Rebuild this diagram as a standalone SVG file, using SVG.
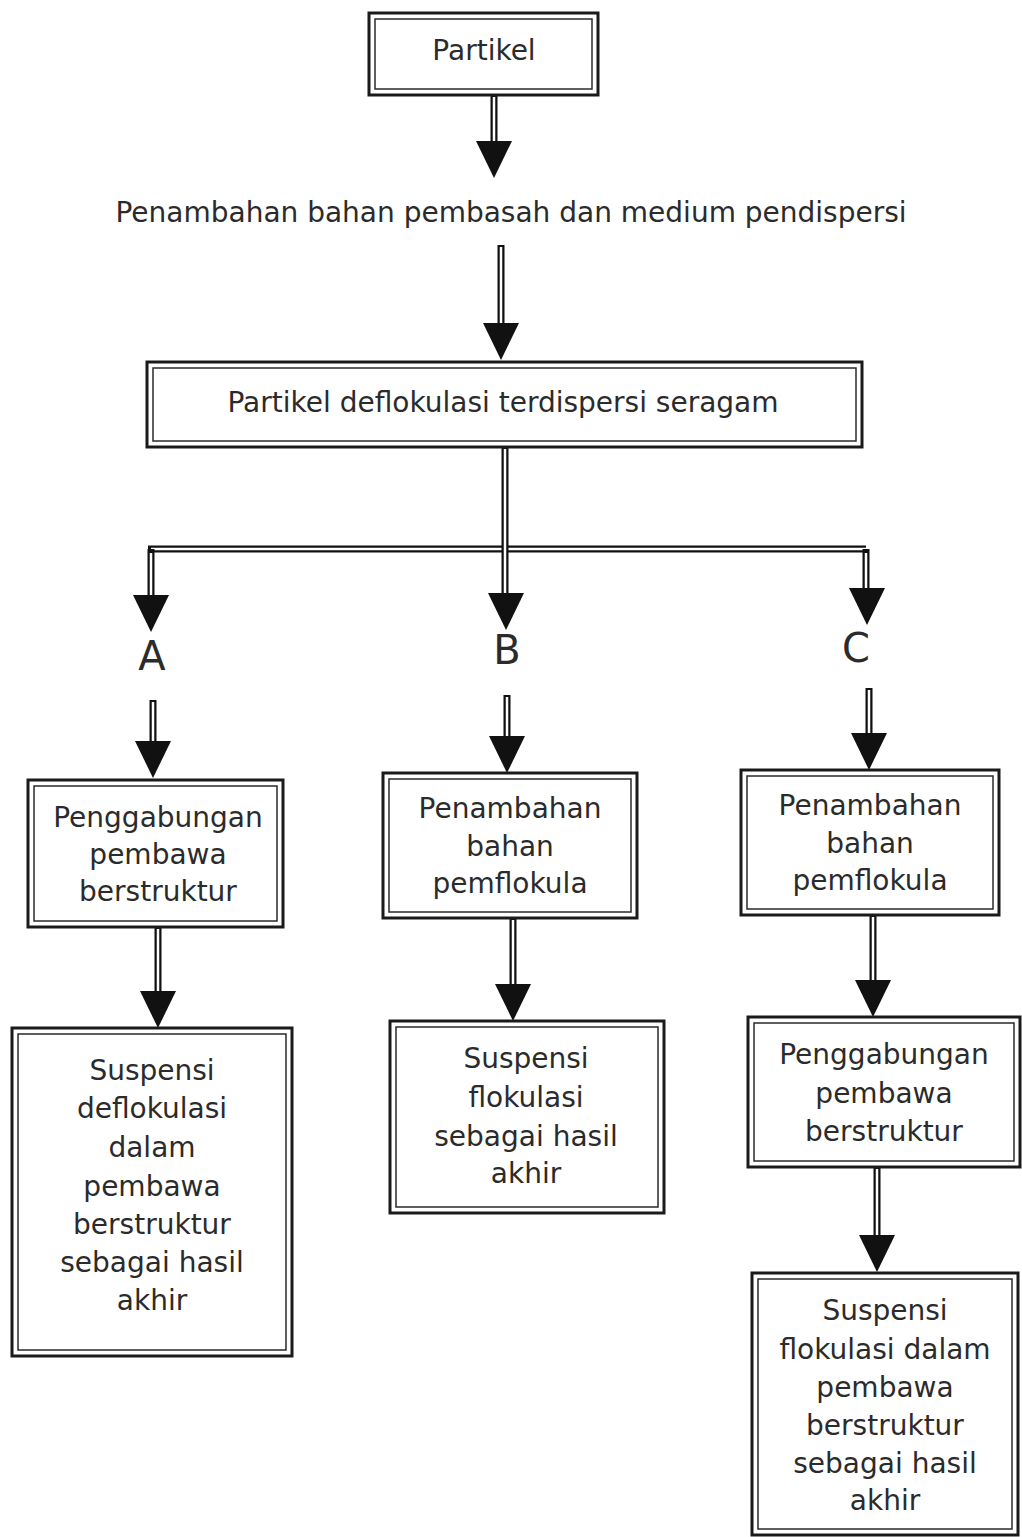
<svg xmlns="http://www.w3.org/2000/svg" xmlns:xlink="http://www.w3.org/1999/xlink" width="1022" height="1537" viewBox="0 0 1022 1537">
<style>
.o{fill:#fff;stroke:#1a1a1a;stroke-width:3}
.i{fill:none;stroke:#2a2a2a;stroke-width:1.5}
.t{font-family:"DejaVu Sans",Verdana,sans-serif;font-size:28px;fill:#2b2b2b;text-anchor:middle}
.L{font-family:"DejaVu Sans",Verdana,sans-serif;font-size:40px;fill:#2b2b2b;text-anchor:middle}
.c{fill:none;stroke:#111;stroke-width:7}
.w{fill:none;stroke:#fff;stroke-width:2.5}
</style>
<defs>
<path id="ah" d="M-18,-37 L18,-37 L0,0 Z" fill="#111"/>
</defs>
<rect width="1022" height="1537" fill="#fff"/>
<g id="connectors">
<path class="c" d="M148,549H866"/>
<path class="w" d="M151,549H866"/>
<path class="c" d="M494,95V142 M501,245V324 M505,447V596 M151,549V600 M866,549V594 M153,700V744 M507,695V740 M869,688V737 M158,927V994 M513,918V988 M873,915V983 M877,1167V1236"/>
<path class="w" d="M494,97V142 M501,247V324 M505,449V596 M151,553V600 M866,553V594 M153,702V744 M507,697V740 M869,690V737 M158,929V994 M513,920V988 M873,917V983 M877,1169V1236"/>
<use xlink:href="#ah" x="494" y="178"/>
<use xlink:href="#ah" x="501" y="360"/>
<use xlink:href="#ah" x="151" y="632"/>
<use xlink:href="#ah" x="506" y="630"/>
<use xlink:href="#ah" x="867" y="625"/>
<use xlink:href="#ah" x="153" y="778"/>
<use xlink:href="#ah" x="507" y="773"/>
<use xlink:href="#ah" x="869" y="770"/>
<use xlink:href="#ah" x="158" y="1028"/>
<use xlink:href="#ah" x="513" y="1021"/>
<use xlink:href="#ah" x="873" y="1017"/>
<use xlink:href="#ah" x="877" y="1272"/>
</g>
<g id="n-partikel">
<rect class="o" x="369" y="13" width="229" height="82"/>
<rect class="i" x="375" y="19" width="217" height="70"/>
<text class="t" x="484" y="60">Partikel</text>
</g>
<g id="n-penambahan">
<text class="t" x="511" y="222">Penambahan bahan pembasah dan medium pendispersi</text>
</g>
<g id="n-deflok">
<rect class="o" x="147" y="362" width="715" height="85"/>
<rect class="i" x="153" y="368" width="703" height="73"/>
<text class="t" x="503" y="412">Partikel deflokulasi terdispersi seragam</text>
</g>
<g id="n-A"><text class="L" x="152" y="670">A</text></g>
<g id="n-B"><text class="L" x="507" y="664">B</text></g>
<g id="n-C"><text class="L" x="856" y="662">C</text></g>
<g id="n-A1">
<rect class="o" x="28" y="780" width="255" height="147"/>
<rect class="i" x="34" y="786" width="243" height="135"/>
<text class="t" x="158" y="827">Penggabungan</text>
<text class="t" x="158" y="864">pembawa</text>
<text class="t" x="158" y="901">berstruktur</text>
</g>
<g id="n-B1">
<rect class="o" x="383" y="773" width="254" height="145"/>
<rect class="i" x="389" y="779" width="242" height="133"/>
<text class="t" x="510" y="818">Penambahan</text>
<text class="t" x="510" y="856">bahan</text>
<text class="t" x="510" y="893">pemflokula</text>
</g>
<g id="n-C1">
<rect class="o" x="741" y="770" width="258" height="145"/>
<rect class="i" x="747" y="776" width="246" height="133"/>
<text class="t" x="870" y="815">Penambahan</text>
<text class="t" x="870" y="853">bahan</text>
<text class="t" x="870" y="890">pemflokula</text>
</g>
<g id="n-A2">
<rect class="o" x="12" y="1028" width="280" height="328"/>
<rect class="i" x="18" y="1034" width="268" height="316"/>
<text class="t" x="152" y="1080">Suspensi</text>
<text class="t" x="152" y="1118">deflokulasi</text>
<text class="t" x="152" y="1157">dalam</text>
<text class="t" x="152" y="1196">pembawa</text>
<text class="t" x="152" y="1234">berstruktur</text>
<text class="t" x="152" y="1272">sebagai hasil</text>
<text class="t" x="152" y="1310">akhir</text>
</g>
<g id="n-B2">
<rect class="o" x="390" y="1021" width="274" height="192"/>
<rect class="i" x="396" y="1027" width="262" height="180"/>
<text class="t" x="526" y="1068">Suspensi</text>
<text class="t" x="526" y="1107">flokulasi</text>
<text class="t" x="526" y="1146">sebagai hasil</text>
<text class="t" x="526" y="1183">akhir</text>
</g>
<g id="n-C2">
<rect class="o" x="748" y="1017" width="272" height="150"/>
<rect class="i" x="754" y="1023" width="260" height="138"/>
<text class="t" x="884" y="1064">Penggabungan</text>
<text class="t" x="884" y="1103">pembawa</text>
<text class="t" x="884" y="1141">berstruktur</text>
</g>
<g id="n-C3">
<rect class="o" x="752" y="1273" width="266" height="262"/>
<rect class="i" x="758" y="1279" width="254" height="250"/>
<text class="t" x="885" y="1320">Suspensi</text>
<text class="t" x="885" y="1359">flokulasi dalam</text>
<text class="t" x="885" y="1397">pembawa</text>
<text class="t" x="885" y="1435">berstruktur</text>
<text class="t" x="885" y="1473">sebagai hasil</text>
<text class="t" x="885" y="1510">akhir</text>
</g>
</svg>
